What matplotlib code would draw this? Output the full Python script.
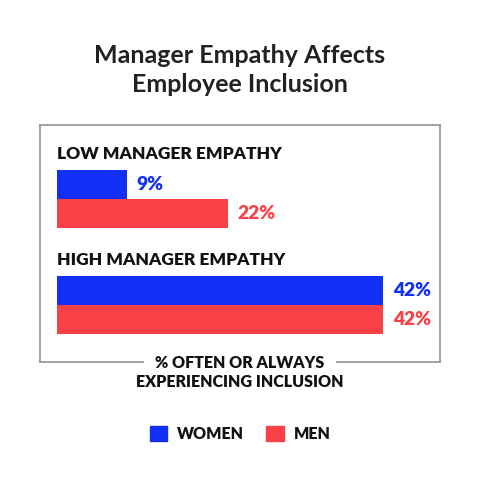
import matplotlib
matplotlib.use("Agg")
import matplotlib.pyplot as plt
from matplotlib.patches import Patch

# data
groups = ["LOW MANAGER EMPATHY", "HIGH MANAGER EMPATHY"]
women = [9, 42]
men = [22, 42]
series_names = ["WOMEN", "MEN"]
title_lines = ["Manager Empathy Affects", "Employee Inclusion"]
xlabel_lines = ["% OFTEN OR ALWAYS", "EXPERIENCING INCLUSION"]

BLUE = "#1230f5"
RED = "#f94046"
DARK = "#111111"
LBL_W = "heavy"

plt.rcParams["font.family"] = ["Lato", "DejaVu Sans"]

W, H = 480, 480
fig = plt.figure(figsize=(4.8, 4.8), dpi=100)

# box axes in pixel units of the figure
left, top, right, bottom = 40, 125, 440, 362
ax = fig.add_axes([left / W, 1 - bottom / H, (right - left) / W, (bottom - top) / H])

bar_h = 0.2736
for i, g in enumerate(groups):
    ax.barh(i - bar_h / 2, women[i], height=bar_h, color=BLUE)
    ax.barh(i + bar_h / 2, men[i], height=bar_h, color=RED)
    ax.text(0, i - 0.377, g, ha="left", va="baseline", fontsize=12.5,
            fontweight=LBL_W, color=DARK)
    ax.annotate(f"{women[i]}%", (women[i], i - bar_h / 2), xytext=(7.0, 0),
                textcoords="offset points", ha="left", va="center",
                fontsize=13.8, fontweight=LBL_W, color=BLUE)
    ax.annotate(f"{men[i]}%", (men[i], i + bar_h / 2), xytext=(7.0, 0),
                textcoords="offset points", ha="left", va="center",
                fontsize=13.8, fontweight=LBL_W, color=RED)

# x: 0 at px 57, 42 at px 383 ; y: group 0 at px 199, group 1 at px 305
ppu = (383 - 57) / 42
ax.set_xlim(-(57 - left) / ppu, (right - 57) / ppu)
ax.set_ylim(1 + (bottom - 305) / 106, -(199 - top) / 106)
ax.set_xticks([])
ax.set_yticks([])
for s in ax.spines.values():
    s.set_color("#9a9a9a")
    s.set_linewidth(1.3)

# axis caption breaking the bottom border
fig.text(0.5, 1 - 368 / H, xlabel_lines[0], ha="center", va="baseline",
         fontsize=11.5, fontweight=LBL_W, color=DARK,
         bbox=dict(facecolor="white", edgecolor="none", pad=8))
fig.text(0.5, 1 - 387 / H, xlabel_lines[1], ha="center", va="baseline",
         fontsize=11.5, fontweight=LBL_W, color=DARK)

fig.text(0.5, 1 - 63 / H, title_lines[0], ha="center", va="baseline",
         fontsize=18, fontweight="bold", color="#222222")
fig.text(0.5, 1 - 92 / H, title_lines[1], ha="center", va="baseline",
         fontsize=18, fontweight="bold", color="#222222")

handles = [Patch(color=BLUE, label=series_names[0]),
           Patch(color=RED, label=series_names[1])]
leg = fig.legend(handles=handles, loc="center", bbox_to_anchor=(0.5, 1 - 434 / H),
                 ncol=2, frameon=False, handlelength=1.1, handleheight=1.1,
                 handletextpad=0.6, columnspacing=1.4,
                 prop={"size": 11.5, "weight": LBL_W})
for t in leg.get_texts():
    t.set_color(DARK)

fig.savefig("out.png", dpi=100, facecolor="white")
